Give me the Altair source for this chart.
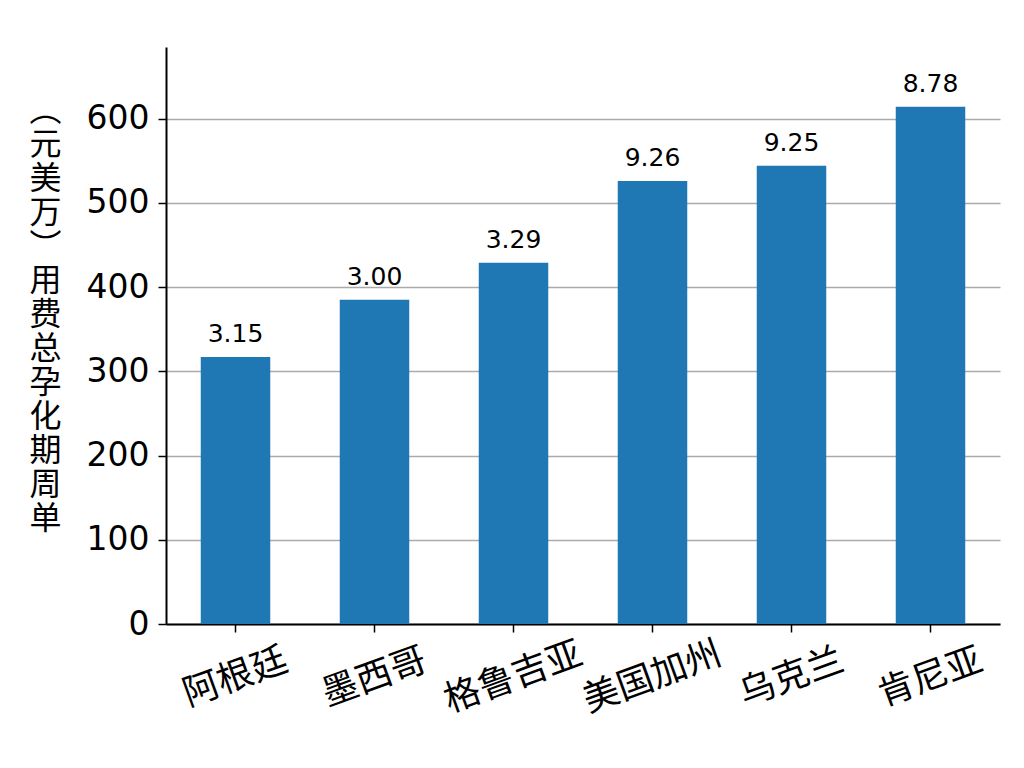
import altair as alt
import pandas as pd

regions = ["阿根廷", "墨西哥", "格鲁吉亚", "美国加州", "乌克兰", "肯尼亚"]
costs = [317, 385, 429, 526, 544, 614]
labels = ["3.15", "3.00", "3.29", "9.26", "9.25", "8.78"]
y_title = ["︵", "元", "美", "万", "︶", "用", "费", "总", "孕", "化", "期", "周", "单"]

df = pd.DataFrame({"region": regions, "cost": costs, "label": labels})

x = alt.X(
    "region:N",
    sort=regions,
    scale=alt.Scale(paddingInner=0.5, paddingOuter=0.25),
    axis=alt.Axis(
        title=None,
        labelAngle=-20,
        labelAlign="center",
        labelBaseline="middle",
        labelFont="Noto Sans CJK SC",
        labelFontSize=36,
        labelColor="#000000",
        labelPadding=45,
        tickSize=8,
        tickColor="#000000",
        tickWidth=1.5,
        domainColor="#000000",
        domainWidth=2,
        grid=False,
    ),
)

y = alt.Y(
    "cost:Q",
    scale=alt.Scale(domain=[0, 685], nice=False),
    axis=alt.Axis(
        title=y_title,
        titleAngle=0,
        titleFont="Noto Sans CJK SC",
        titleFontSize=32,
        titleFontWeight="normal",
        titleLineHeight=34,
        titleColor="#000000",
        titleAlign="center",
        titleBaseline="top",
        titleX=-121,
        titleY=48,
        values=[0, 100, 200, 300, 400, 500, 600],
        labelFont="DejaVu Sans",
        labelFontSize=33,
        labelColor="#000000",
        labelPadding=9,
        tickSize=8,
        tickColor="#000000",
        tickWidth=1.5,
        domainColor="#000000",
        domainWidth=2,
        grid=True,
        gridColor="#aaaaaa",
        gridWidth=1.6,
    ),
)

bars = alt.Chart(df).mark_bar(color="#1f77b4").encode(x=x, y=y)

text = alt.Chart(df).mark_text(
    font="DejaVu Sans", fontSize=25, color="#000000", baseline="alphabetic", dy=-15
).encode(x=alt.X("region:N", sort=regions), y="cost:Q", text="label:N")

chart = (
    alt.layer(bars, text)
    .properties(
        width=834,
        height=577,
        autosize=alt.AutoSizeParams(type="none"),
        padding={"left": 158, "top": 39, "right": 16, "bottom": 110},
        background="#ffffff",
    )
    .configure_view(stroke=None)
)

chart.save("out.html", embed_options={"renderer": "svg", "actions": False})
